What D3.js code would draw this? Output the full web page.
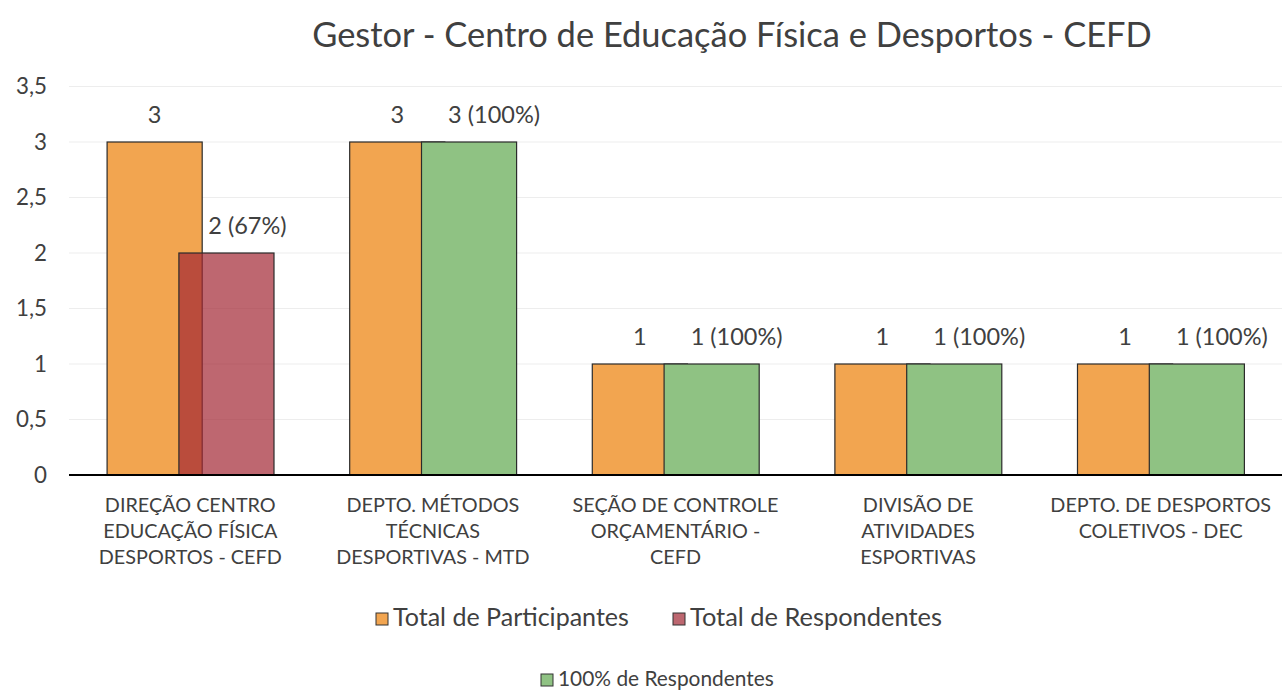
<!DOCTYPE html>
<html><head><meta charset="utf-8">
<script src="https://cdn.jsdelivr.net/npm/d3@7"></script>
<style>
html,body{margin:0;padding:0;background:#fff;}
svg text{font-family:Lato,"Open Sans","Noto Sans",sans-serif;fill:#404040;}
</style></head>
<body>
<svg id="c" width="1283" height="692"></svg>
<script>
const title = "Gestor - Centro de Educação Física e Desportos - CEFD";
const categories = [
  ["DIREÇÃO CENTRO","EDUCAÇÃO FÍSICA","DESPORTOS - CEFD"],
  ["DEPTO. MÉTODOS","TÉCNICAS","DESPORTIVAS - MTD"],
  ["SEÇÃO DE CONTROLE","ORÇAMENTÁRIO  -","CEFD"],
  ["DIVISÃO DE","ATIVIDADES","ESPORTIVAS"],
  ["DEPTO. DE DESPORTOS","COLETIVOS - DEC"]
];
const participantes = [3, 3, 1, 1, 1];
const respondentes = [2, null, null, null, null];
const respondentesLabels = ["2 (67%)", null, null, null, null];
const cemPorCento = [null, 3, 1, 1, 1];
const cemLabels = [null, "3 (100%)", "1 (100%)", "1 (100%)", "1 (100%)"];
const yTicks = [0, 0.5, 1, 1.5, 2, 2.5, 3, 3.5];
const seriesNames = ["Total de Participantes", "Total de Respondentes", "100% de Respondentes"];
const colors = {part:"#f2a550", resp:"#a32633", cem:"#8fc283"};

const svg = d3.select("#c");
const mLeft = 69, mRight = 1282, mTop = 86.5, mBottom = 475;
const y = d3.scaleLinear().domain([0, 3.5]).range([mBottom, mTop]);
const x = d3.scaleBand().domain(d3.range(categories.length)).range([mLeft, mRight]).paddingInner(0).paddingOuter(0);
const bw = x.bandwidth();
const barW = bw * 0.392;
const off1 = bw * 0.157, off2 = bw * 0.453;

// returns font size so that sel's width equals target
function fitSize(sel, target){
  const w = sel.node().getComputedTextLength();
  const fs = parseFloat(sel.attr("font-size"));
  return fs * target / w;
}

// gridlines
svg.append("g").selectAll("line").data(yTicks.filter(d=>d>0)).join("line")
  .attr("x1", mLeft).attr("x2", mRight)
  .attr("y1", d=>y(d)).attr("y2", d=>y(d))
  .attr("stroke","#ededed").attr("stroke-width",1.2);

// y axis
const yAxis = d3.axisLeft(y).tickValues(yTicks).tickSize(0).tickPadding(22)
  .tickFormat(d => d3.format("~g")(d).replace(".", ","));
const ga = svg.append("g").attr("transform",`translate(${mLeft},0)`).call(yAxis);
ga.select(".domain").remove();
ga.selectAll("text").attr("font-size",18).attr("fill","#404040")
  .style("font-family",'Lato,"Open Sans",sans-serif');
{
  const ref = ga.selectAll("text").filter(d=>d===3.5);
  const fs = fitSize(ref, 31);
  ga.selectAll("text").attr("font-size", fs);
}

// bars
const stroke = "#2b2b2b";
svg.append("g").selectAll("rect").data(participantes).join("rect")
  .attr("x",(d,i)=>x(i)+off1).attr("width",barW)
  .attr("y",d=>y(d)).attr("height",d=>y(0)-y(d))
  .attr("fill",colors.part).attr("stroke",stroke).attr("stroke-width",1.2);
svg.append("g").selectAll("rect").data(cemPorCento.map((v,i)=>({v,i})).filter(d=>d.v!=null)).join("rect")
  .attr("x",d=>x(d.i)+off2).attr("width",barW)
  .attr("y",d=>y(d.v)).attr("height",d=>y(0)-y(d.v))
  .attr("fill",colors.cem).attr("stroke",stroke).attr("stroke-width",1.2);
svg.append("g").selectAll("rect").data(respondentes.map((v,i)=>({v,i})).filter(d=>d.v!=null)).join("rect")
  .attr("x",d=>x(d.i)+off2).attr("width",barW)
  .attr("y",d=>y(d.v)).attr("height",d=>y(0)-y(d.v))
  .attr("fill",colors.resp).attr("fill-opacity",0.7).attr("stroke",stroke).attr("stroke-width",1.2);

// baseline
svg.append("line").attr("x1",mLeft).attr("x2",mRight).attr("y1",y(0)).attr("y2",y(0))
  .attr("stroke","#000").attr("stroke-width",2.2);

// data labels
const lab = svg.append("g").attr("text-anchor","middle");
const labs = [];
participantes.forEach((v,i)=>{
  labs.push(lab.append("text").attr("x",x(i)+off1+barW/2).attr("y",y(v)-19).attr("font-size",18).text(v));
});
respondentes.forEach((v,i)=>{
  if(v==null) return;
  labs.push(lab.append("text").attr("x",x(i)+off2+barW/2+21).attr("y",y(v)-19).attr("font-size",18).text(respondentesLabels[i]));
});
let refLab = null;
cemPorCento.forEach((v,i)=>{
  if(v==null) return;
  const t = lab.append("text").attr("x",x(i)+off2+barW/2+25).attr("y",y(v)-19).attr("font-size",18).text(cemLabels[i]);
  labs.push(t);
  if(!refLab) refLab = t;
});
{
  const fs = fitSize(refLab, 92);
  labs.forEach(t=>t.attr("font-size", fs));
}

// x labels
const xl = svg.append("g").attr("text-anchor","middle");
let refX = null;
categories.forEach((lines,i)=>{
  lines.forEach((t,j)=>{
    const n = xl.append("text").attr("x",x(i)+bw/2).attr("y",512+j*26).attr("font-size",18).text(t);
    if(!refX) refX = n;
  });
});
{
  const fs = fitSize(refX, 171);
  xl.selectAll("text").attr("font-size", fs);
}

// title
const tt = svg.append("text").attr("x",732).attr("y",47).attr("text-anchor","middle")
  .attr("font-size",30).text(title);
tt.attr("font-size", fitSize(tt, 840));

// legend
const lg = svg.append("g");
function legItem(xp, yp, color, text, size, sq, target){
  lg.append("rect").attr("x",xp).attr("y",yp-sq/2).attr("width",sq).attr("height",sq)
    .attr("fill",color).attr("stroke","#333").attr("stroke-width",1);
  const t = lg.append("text").attr("x",xp+sq+5).attr("y",yp+size*0.36).attr("font-size",size).text(text);
  if(target) t.attr("font-size", fitSize(t, target));
}
legItem(376, 619, colors.part, seriesNames[0], 20, 12, 236);
legItem(673, 619, "#bd6770", seriesNames[1], 20, 12, 252);
legItem(541, 680, colors.cem, seriesNames[2], 17, 12, 216);
</script>
</body></html>
